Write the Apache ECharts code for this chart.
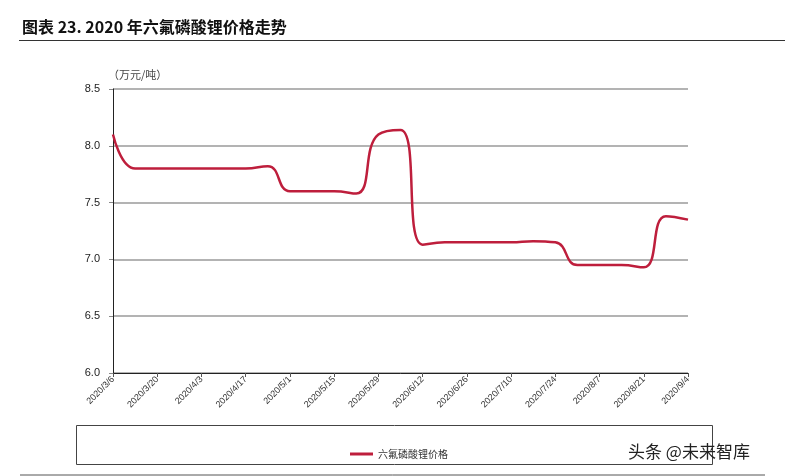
<!DOCTYPE html>
<html>
<head>
<meta charset="utf-8">
<script src="https://cdn.jsdelivr.net/npm/echarts@6/dist/echarts.min.js"></script>
<style>
html,body{margin:0;padding:0;background:#fff;}
#chart{width:785px;height:476px;}
</style>
</head>
<body>
<div id="chart"></div>
<script>
const titleText = '图表 23. 2020 年六氟磷酸锂价格走势';
const unitText = '（万元/吨）';
const seriesName = '六氟磷酸锂价格';
const watermark = '头条 @未来智库';
const categories = ['2020/3/6','2020/3/13','2020/3/20','2020/3/27','2020/4/3','2020/4/10','2020/4/17','2020/4/24',
  '2020/5/1','2020/5/8','2020/5/15','2020/5/22','2020/5/29','2020/6/5','2020/6/12','2020/6/19','2020/6/26',
  '2020/7/3','2020/7/10','2020/7/17','2020/7/24','2020/7/31','2020/8/7','2020/8/14','2020/8/21','2020/8/28','2020/9/4'];
const prices = [8.10,7.80,7.80,7.80,7.80,7.80,7.80,7.82,7.60,7.60,7.60,7.58,8.10,8.14,7.13,7.15,7.15,
  7.15,7.15,7.16,7.15,6.95,6.95,6.95,6.93,7.38,7.35];
const yMin = 6.0, yMax = 8.5, yStep = 0.5;

const chart = echarts.init(document.getElementById('chart'), null, {renderer:'canvas'});
chart.setOption({
  animation:false,
  backgroundColor:'#fff',
  grid:{left:113,right:97,top:89,bottom:103,containLabel:false},
  legend:{
    data:[{name:seriesName,icon:'rect'}],
    left:345, top:444,
    itemWidth:23, itemHeight:3, itemGap:4,
    textStyle:{fontSize:10,color:'#333',fontFamily:'Noto Sans CJK SC'}
  },
  xAxis:{
    type:'category',
    data:categories,
    boundaryGap:false,
    axisLine:{lineStyle:{color:'#222',width:1}},
    axisTick:{interval:1,length:4,lineStyle:{color:'#555'}},
    axisLabel:{interval:1,rotate:45,fontSize:9,color:'#333',fontFamily:'Liberation Sans',margin:5},
    splitLine:{show:false}
  },
  yAxis:{
    type:'value',
    min:yMin,max:yMax,interval:yStep,
    axisLine:{show:true,lineStyle:{color:'#222',width:1}},
    axisTick:{show:true,length:4,lineStyle:{color:'#888'}},
    axisLabel:{fontSize:11,color:'#222',fontFamily:'Liberation Sans',margin:13,
      formatter:v=>v.toFixed(1)},
    splitLine:{lineStyle:{color:'#9a9a9a',width:1.5}}
  },
  series:[{
    name:seriesName,
    type:'line',
    data:prices,
    smooth:0.5,
    showSymbol:false,
    lineStyle:{color:'#BE1E3C',width:2.5},
    itemStyle:{color:'#BE1E3C'}
  }],
  graphic:[
    {type:'text',left:22,top:19,style:{text:titleText,fontSize:16,fontWeight:'bold',fill:'#111',fontFamily:'Noto Sans CJK SC'}},
    {type:'line',shape:{x1:19,y1:40.5,x2:785,y2:40.5},style:{stroke:'#333',lineWidth:1}},
    {type:'text',left:108,top:69,style:{text:unitText,fontSize:11,fill:'#444',fontFamily:'Noto Sans CJK SC'}},
    {type:'rect',shape:{x:76.5,y:425.5,width:636,height:39},style:{fill:'none',stroke:'#444',lineWidth:1},z:-1},
    {type:'line',shape:{x1:20,y1:475,x2:765,y2:475},style:{stroke:'#555',lineWidth:1}},
    {type:'text',left:628,top:443,style:{text:watermark,fontSize:17,fill:'#222',fontFamily:'Noto Sans CJK SC'}}
  ]
});
</script>
</body>
</html>
